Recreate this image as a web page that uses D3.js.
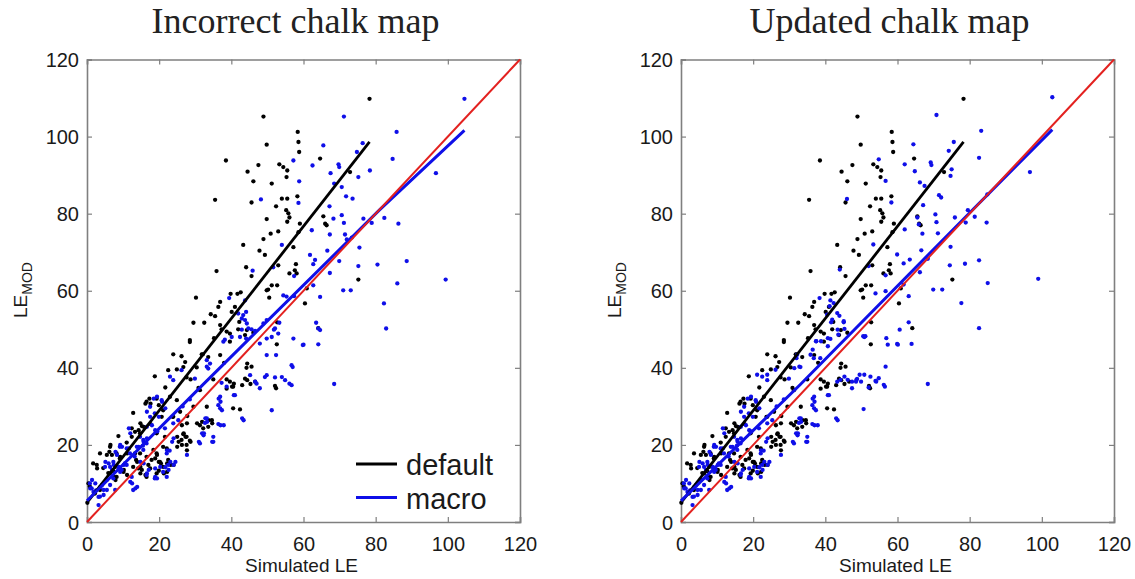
<!DOCTYPE html>
<html><head><meta charset="utf-8">
<script src="https://cdn.jsdelivr.net/npm/d3@7"></script>
<style>body{margin:0;background:#fff}svg{display:block}</style>
</head><body>
<svg id="chart" width="1135" height="579"></svg>
<script>
// ---------- DATA ----------
const titles = ["Incorrect chalk map", "Updated chalk map"];
const xTicks = [0, 20, 40, 60, 80, 100, 120];
const yTicks = [0, 20, 40, 60, 80, 100, 120];
const xLabel = "Simulated LE";
const yLabelMain = "LE";
const yLabelSub = "MOD";
const legendLabels = ["default", "macro"];

// fitted lines
const defaultLine = [[0, 5], [78.3, 98.6]];
const macroLineLeft = [[0, 5.5], [32, 35.5], [81, 80.9], [104.6, 101.6]];
const macroLineRight = [[0, 5.5], [33, 35.6], [80.5, 80.7], [102.9, 101.8]];
const identityLine = [[0, 0], [120, 120]];

// default (black) points, same in both panels
const blackPts = [
[48.9,105.2],[38.5,93.8],[35.5,83.6],[35.9,65.1],[49.8,97.9],[44.5,90.9],[47.5,92.6],[46.1,88.4],[45.6,82.9],[53.3,92.8],[54.4,92.1],[55.5,91.2],[51.2,87.8],[52.4,81.9],[54.0,83.9],[55.5,83.9],[55.3,89.5],[58.4,101.2],[58.6,98.6],[58.8,96.0],[55.2,80.9],[55.8,80.1],[55.5,77.9],[53.0,75.4],[49.8,78.6],[50.9,74.8],[48.9,73.4],[43.3,71.9],[57.2,71.3],[47.8,70.4],[49.3,69.3],[44.1,66.1],[45.6,63.8],[53.0,66.6],[56.1,64.5],[57.6,65.3],[52.7,61.4],[50.2,60.3],[39.8,59.2],[41.7,59.2],[42.6,59.6],[30.2,58.2],[50.5,58.2],
[78.3,109.8],[64.6,94.3],[58.3,84.5],[56.1,79.0],[59.0,77.4],[58.6,75.2],[57.9,66.9],[58.1,64.5],[65.5,79.3],[66.0,77.4],[66.4,77.0],[72.9,90.8],[75.2,62.9],[60.9,60.6],[60.4,56.7],
[36.9,57.1],[36.4,55.8],[34.3,53.9],[35.5,53.4],[40.1,54.5],[41.0,55.8],[29.5,51.7],[32.5,51.7],[36.9,51.1],[37.3,50.0],[38.7,49.4],[39.6,48.9],[35.2,47.7],[28.5,47.2],[28.5,46.7],[41.9,50.0],[44.3,49.8],[43.8,48.5],[46.1,49.1],[39.6,46.8],[23.9,43.5],[26.2,43.0],[27.2,41.5],[26.7,40.2],[31.8,43.5],[33.6,42.8],[36.9,43.3],[38.0,41.3],[24.9,39.6],[22.5,39.4],[30.4,40.1],[18.8,37.8],[27.6,37.5],[28.7,37.0],[44.4,41.1],[44.2,40.0],[43.8,37.2],[44.4,36.8],[46.6,36.4],[38.7,37.0],[39.6,36.4],[40.5,35.1],[38.7,34.6],[52.1,35.3],[52.4,34.7],[17.3,32.0],[16.5,31.2],[19.3,32.0],[12.8,28.3],[21.1,29.0],[23.7,27.3],[27.8,27.5],[20.7,27.3],[17.6,25.4],[15.2,24.9],[12.4,24.3],[13.3,23.4],[14.7,23.0],[19.3,23.0],[21.6,22.1],[26.7,22.8],[26.2,21.3],[27.6,22.1],[31.3,25.1],[32.2,24.3],[33.6,24.7],[34.6,26.4],[33.2,29.9],[29.5,29.9],[40.5,29.5],[28.5,21.1],[27.6,20.0],[8.7,22.3],[12.4,22.1],[11.0,20.6],[3.6,17.8],[6.4,19.5],[6.2,18.2],[1.7,15.2],[2.7,14.8],[8.2,17.8],[9.1,16.5],[13.3,17.8],[14.7,17.8],[16.5,16.9],[17.9,16.1],[17.0,14.8],[20.2,15.6],[21.1,14.3],[22.5,16.1],[23.2,14.8],[16.5,11.7],[19.3,12.6],[17.5,13.9],[4.5,14.0],[5.9,12.7],[7.3,13.2],[7.8,14.3],[10.1,13.0],[0.4,10.0],[0.8,9.2],[0.1,5.0],[2.2,7.4],[3.6,8.3],[6.4,12.6],[8.2,11.7],[13.6,16.1],[12.8,14.3],[14.2,13.9],[15.2,13.5],[18.4,18.7],[19.3,17.8],[21.1,19.5],[22.1,19.1],[23.9,27.3],[25.8,28.6],[23.0,32.5],[24.9,31.6],[30.9,34.8],[31.3,34.2],[35.0,37.0],[42.4,29.2],[51.2,61.4],[49.8,60.1],
[21.7,34.9],[17.6,30.7],[16.2,30.7],[19.9,30.3],[14.8,25.6],[15.7,24.7],[14.3,23.8],[6.5,20.0],[5.5,17.4],[6.9,17.4],[2.8,13.9],[9.2,16.9],[11.1,17.8],[13.9,15.6],[14.8,14.3],[10.2,13.5],[11.1,12.2],[7.4,11.7],[7.9,10.9],[25.0,19.5],[26.3,20.0],[27.7,18.6],[26.8,23.0],[27.3,22.1],[25.0,22.1],[25.4,20.8],[28.7,20.8],[27.7,25.6],[26.3,25.1],[19.4,17.4],[19.9,15.6],[20.5,15.2],[18.9,16.5],[22.2,15.2],[24.0,14.8],[19.9,13.3],[22.2,13.0],[21.3,12.6],[14.8,12.6],[16.2,12.2],[30.5,25.6],[31.9,26.0],[33.7,26.4],[34.7,25.6],[40.2,35.1],[40.7,35.9],[45.3,35.8],[43.0,35.5],
[42.2,51.9],[52.7,51.8],[52.6,46.1],[45.6,40.3],[64.1,50.3],[32.1,43.5]
];

// macro (blue) points shared by both panels (low range)
const blueLow = [
[18.5,32.0],[19.4,32.5],[20.8,31.2],[21.7,29.5],[16.6,28.6],[19.9,27.3],[16.6,24.7],[18.0,25.1],[18.9,23.8],[11.6,24.3],[12.0,23.0],[9.2,20.0],[9.7,19.5],[11.6,19.1],[7.9,18.2],[8.3,17.4],[5.1,15.6],[6.0,15.2],[7.4,14.8],[6.9,13.5],[8.8,14.3],[10.2,14.8],[9.2,13.0],[1.4,10.9],[2.3,10.0],[0.9,8.7],[1.8,7.8],[3.7,9.1],[4.6,8.3],[3.2,6.5],[4.6,7.0],[3.2,4.4],[12.0,10.4],[12.5,10.0],[13.4,8.7],[13.9,9.1],[14.3,19.5],[15.7,20.8],[16.6,21.7],[14.8,15.6],[15.7,15.2],[17.1,13.5],[16.6,12.6],[19.4,11.3],[18.9,11.7],[20.3,14.3],[21.7,14.2],[22.6,13.5],[23.1,15.6],[24.5,15.6],[24.0,14.8],[22.2,18.6],[22.9,18.5],[23.6,20.8],[24.0,21.7],[18.9,13.9],[27.7,17.4],[31.9,23.0],[32.3,22.5],[31.0,20.8],[34.7,20.8],[32.8,26.9],[33.3,26.0],[37.0,25.1],[37.9,25.1],[36.5,32.0],[37.0,31.2],[37.4,29.0],[40.7,32.9],[43.0,26.9],[43.4,26.4],
[7.8,8.3],[6.4,9.6],[5.5,8.3],[3.6,6.6],[0.8,10.0],[1.3,8.7],[5.5,10.9],[7.3,11.3],[8.7,14.3],[9.6,13.5],[11.0,14.8],[12.4,11.7],[9.1,19.5],[11.0,19.1],[11.9,17.8],[7.3,15.6],[6.4,14.3],[5.0,14.3],[13.8,19.5],[15.6,18.7],[16.5,20.4],[12.8,8.3],[22.1,17.8],[22.5,14.8],[21.1,13.0],[22.1,11.7],[18.8,11.3],[16.5,12.2],[17.5,29.9],[20.7,31.6],[17.5,27.3],[18.8,28.2],[23.9,25.6],[25.3,26.4],[14.7,22.1],[15.6,21.3],[21.6,24.3],[32.4,23.0],[35.0,22.1],[35.0,20.8],[31.3,20.4],[33.2,26.9],[32.7,25.7],[36.9,32.5],[41.0,32.9],[29.9,37.2],[23.9,36.8],[36.4,25.4],[36.9,29.5],[36.4,30.3],
[2.5,8.2],[4.2,9.6],[10.5,15.2],[13.2,17.0],[15.5,19.8],[19.5,23.5],[26.5,30.0],[28.5,31.8]
];

// macro points, left panel only
const blueLeft = [
[48.2,83.7],[57.2,93.8],[58.8,88.4],[58.6,82.8],[54.0,71.9],[45.9,65.2],[51.6,66.1],[57.4,63.8],[39.4,58.1],[54.4,58.8],
[37.8,46.8],[42.4,48.0],[44.1,47.6],[45.6,50.0],[44.3,51.5],[43.8,52.4],[41.9,54.1],[42.9,52.8],[44.1,54.5],[55.3,58.5],[53.3,51.7],[52.1,50.2],[53.0,48.9],[57.2,47.6],[49.8,47.6],[47.9,46.3],[52.4,43.3],[56.7,40.7],[49.3,37.6],[49.8,38.1],[54.9,36.8],[54.0,37.6],[56.1,35.9],[56.7,35.5],[47.0,35.9],[47.9,34.7],[51.2,29.0],[26.2,39.4],[33.2,42.0],[34.1,41.1],[23.0,37.7],
[104.6,109.8],[71.2,105.2],[85.8,101.2],[65.5,97.7],[76.4,98.3],[74.8,96.0],[84.7,94.2],[62.5,92.5],[69.7,92.8],[69.9,92.1],[67.5,90.5],[78.4,91.2],[75.2,89.5],[96.7,90.5],[68.5,87.8],[70.6,86.9],[71.8,84.5],[73.6,83.9],[67.2,81.9],[70.6,79.6],[71.2,77.6],[68.3,78.7],[76.6,78.7],[78.9,77.6],[86.3,77.4],[82.4,78.9],[62.3,75.7],[67.3,74.6],[71.5,74.6],[72.0,73.3],[73.4,73.8],[75.5,71.2],[66.6,70.4],[61.8,69.3],[62.7,66.9],[63.2,68.0],[69.9,67.7],[80.5,66.8],[88.6,67.7],[75.2,66.4],[67.3,64.6],[99.4,62.9],[86.0,61.9],[62.7,61.4],[71.0,60.1],[73.1,60.1],[64.6,58.4],
[82.3,56.7],[63.5,51.7],[64.1,50.2],[64.6,49.8],[82.9,50.2],[60.0,46.0],[64.1,46.1],[57.0,40.2],[68.5,35.8],[57.4,58.6],
[43.8,57.5],[43.3,53.7],[44.7,50.2],[46.6,49.6],[42.9,49.9],[48.9,51.5],[49.8,52.4],[51.2,48.0],[51.8,49.9],[59.8,45.9],[49.8,43.3],[45.2,38.1],[46.6,36.4],[52.1,37.5],[38.2,47.3],[40.1,48.0],[33.2,40.3],[33.6,39.8],[37.3,36.1],[38.7,35.1]
];

// macro points, right panel only
const blueRight = [
[46.0,83.8],[44.0,65.5],[38.4,58.1],
[41.2,56.0],[42.3,56.8],[40.5,53.8],[41.9,52.5],[41.6,51.8],[45.1,51.8],[40.7,47.7],[41.4,47.5],[37.5,46.9],[40.7,45.6],[35.9,43.4],[36.8,42.5],[32.2,43.4],[32.0,42.5],[33.1,40.2],[38.6,42.5],[48.6,36.9],[47.4,34.7],[44.2,36.9],[43.3,36.4],[26.2,39.5],[23.9,38.2],[22.5,37.7],[21.1,38.2],
[102.9,110.2],[70.8,105.6],[83.2,101.5],[64.4,98.0],[75.6,98.6],[74.2,96.3],[54.8,94.1],[82.6,94.5],[62.0,92.8],[69.2,93.3],[69.4,92.6],[64.8,91.0],[75.0,91.5],[74.7,89.8],[96.7,90.8],[56.7,88.5],[66.2,88.1],[67.5,87.2],[71.5,84.8],[72.1,84.2],[58.3,82.9],[67.1,82.2],[84.9,85.0],[79.5,80.9],[81.4,79.2],[70.5,79.8],[70.8,77.8],[65.5,79.0],[65.9,77.2],[75.9,79.0],[78.9,77.7],[84.7,77.7],[62.0,75.9],[66.9,74.8],[71.2,74.9],[53.3,72.0],[74.7,71.4],[66.6,70.5],[59.9,69.4],[63.4,68.1],[61.7,67.1],[68.4,68.3],[82.6,67.9],[78.7,67.0],[74.5,66.6],[66.2,64.8],[56.7,64.0],[99.0,63.1],[85.0,62.0],[61.7,61.6],[69.9,60.3],[72.4,60.3],[63.1,58.6],[52.0,66.4],
[77.7,56.8],[82.6,50.3],[63.1,51.8],[60.6,49.9],[56.9,47.7],[59.9,46.2],[63.9,46.2],[56.7,40.3],[49.5,38.2],[48.8,37.1],[47.4,36.4],[53.9,36.6],[54.8,37.3],[56.2,35.6],[56.5,35.1],[52.0,34.9],[68.4,35.8],[50.6,29.3],[53.9,59.3],[56.7,59.9],[50.5,48.2],[51.1,48.2],
[43.3,54.2],[43.9,53.5],[45.1,52.1],[45.3,50.1],[43.4,49.9],[43.6,48.6],[38.8,46.9],[50.8,48.0],[57.3,46.0],[60.1,46.0],[54.1,36.4],[52.5,37.7],[50.8,38.2],[49.9,36.4],[48.5,36.4],[46.2,36.9],[45.3,37.7],[31.4,39.9],[32.8,40.3],[36.5,44.7],[37.4,46.9],[41.4,57.5]
];

// ---------- DRAW ----------
const svg = d3.select("#chart");
const BLACK = "#000000", BLUE = "#0f0fe8", RED = "#e3211f", AXIS = "#7f7f7f", TEXT = "#1a1a1a";

const panels = [
  {title: titles[0], x0: 87, x1: 520, blue: blueLow.concat(blueLeft), macro: macroLineLeft, legend: true},
  {title: titles[1], x0: 681, x1: 1114, blue: blueLow.concat(blueRight), macro: macroLineRight, legend: false}
];
const yTop = 59.5, yBot = 522;

panels.forEach(p => {
  const x = d3.scaleLinear().domain([0, 120]).range([p.x0, p.x1]);
  const y = d3.scaleLinear().domain([0, 120]).range([yBot, yTop]);
  const g = svg.append("g");

  // title
  g.append("text").attr("x", (p.x0 + p.x1) / 2 - 8).attr("y", 33)
    .attr("text-anchor", "middle").attr("font-family", "Liberation Serif, serif")
    .attr("font-size", 36).attr("fill", "#222").text(p.title);

  // axes (inward ticks, box)
  const axB = d3.axisBottom(x).tickValues(xTicks).tickSize(-5).tickPadding(10);
  const axT = d3.axisTop(x).tickValues(xTicks).tickSize(-5).tickFormat("");
  const axL = d3.axisLeft(y).tickValues(yTicks).tickSize(-5).tickPadding(8);
  const axR = d3.axisRight(y).tickValues(yTicks).tickSize(-5).tickFormat("");
  const gb = g.append("g").attr("transform", `translate(0,${yBot})`).call(axB);
  const gt = g.append("g").attr("transform", `translate(0,${yTop})`).call(axT);
  const gl = g.append("g").attr("transform", `translate(${p.x0},0)`).call(axL);
  const gr = g.append("g").attr("transform", `translate(${p.x1},0)`).call(axR);
  [gb, gt, gl, gr].forEach(a => {
    a.select(".domain").attr("stroke", AXIS).attr("stroke-width", 1.6);
    a.selectAll(".tick line").attr("stroke", AXIS).attr("stroke-width", 1.2);
    a.selectAll(".tick text").attr("fill", TEXT).attr("font-size", 20)
      .attr("font-family", "Liberation Sans, Arial, sans-serif");
  });
  gb.selectAll(".tick text").attr("dy", "0.95em");
  gl.selectAll(".tick text").attr("dy", "0.35em");

  // axis labels
  g.append("text").attr("x", (p.x0 + p.x1) / 2 - 2).attr("y", 572)
    .attr("text-anchor", "middle").attr("font-family", "Liberation Sans, Arial, sans-serif")
    .attr("font-size", 19).attr("fill", TEXT).text(xLabel);
  const yl = g.append("text").attr("transform", `translate(${p.x0 - 60},290) rotate(-90)`)
    .attr("text-anchor", "middle").attr("font-family", "Liberation Sans, Arial, sans-serif")
    .attr("fill", TEXT);
  yl.append("tspan").attr("font-size", 19).text(yLabelMain);
  yl.append("tspan").attr("font-size", 14).attr("dy", 5).text(yLabelSub);

  // points
  const plot = g.append("g");
  plot.selectAll("circle.b").data(blackPts).join("circle").attr("class", "b")
    .attr("cx", d => x(d[0])).attr("cy", d => y(d[1])).attr("r", 2.15).attr("fill", BLACK);
  plot.selectAll("circle.m").data(p.blue).join("circle").attr("class", "m")
    .attr("cx", d => x(d[0])).attr("cy", d => y(d[1])).attr("r", 2.15).attr("fill", BLUE);

  // lines
  const line = d3.line().x(d => x(d[0])).y(d => y(d[1]));
  plot.append("path").datum(defaultLine).attr("d", line).attr("fill", "none")
    .attr("stroke", BLACK).attr("stroke-width", 2.8);
  plot.append("path").datum(p.macro).attr("d", line).attr("fill", "none")
    .attr("stroke", BLUE).attr("stroke-width", 3);
  plot.append("path").datum(identityLine).attr("d", line).attr("fill", "none")
    .attr("stroke", RED).attr("stroke-width", 2);

  // legend
  if (p.legend) {
    const lg = g.append("g");
    const items = [{label: legendLabels[0], color: BLACK, yy: 464}, {label: legendLabels[1], color: BLUE, yy: 497.5}];
    items.forEach(it => {
      lg.append("line").attr("x1", 356).attr("x2", 397).attr("y1", it.yy).attr("y2", it.yy)
        .attr("stroke", it.color).attr("stroke-width", 2.8);
      lg.append("text").attr("x", 406).attr("y", it.yy + 5.5).attr("dy", "0.2em")
        .attr("font-family", "Liberation Sans, Arial, sans-serif").attr("font-size", 29)
        .attr("fill", TEXT).text(it.label);
    });
  }
});
</script>
</body></html>
